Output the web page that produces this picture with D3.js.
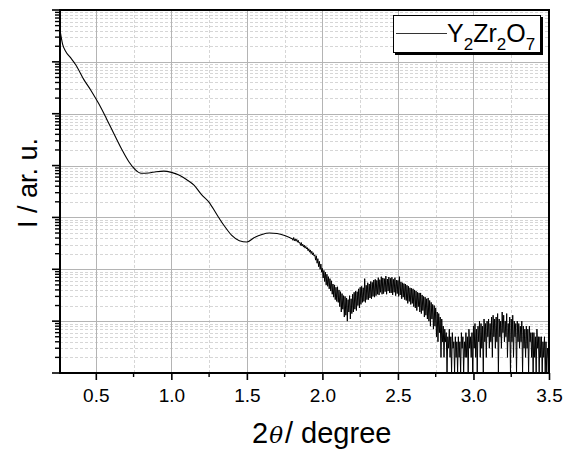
<!DOCTYPE html>
<html><head><meta charset="utf-8">
<script src="https://cdn.jsdelivr.net/npm/d3@7"></script>
<style>
html,body{margin:0;padding:0;background:#fff;}
svg{display:block;}
text{font-family:"Liberation Sans",Arial,sans-serif;fill:#000;}
</style></head>
<body><svg id="chart" width="566" height="453"></svg>
<script>
// ---- data ----
const smoothTheta = [0.265,0.28,0.30,0.33,0.37,0.42,0.47,0.52,0.57,0.62,0.67,0.72,0.76,0.80,0.85,0.90,0.95,1.00,1.05,1.10,1.15,1.20,1.25,1.30,1.35,1.40,1.45,1.50,1.55,1.60,1.65,1.70,1.75,1.80];
const smoothI = [3.8e6,2.2e6,1.6e6,1.23e6,8.5e5,4.6e5,2.75e5,1.55e5,8.1e4,4.1e4,2.1e4,1.17e4,8.4e3,7.1e3,7.2e3,7.6e3,7.8e3,7.4e3,6.6e3,5.4e3,4.2e3,2.75e3,1.95e3,1.15e3,690,450,355,335,410,470,500,490,450,390];
const noisyStart = 1.80, noisyStep = 0.005;
const noisyCounts = [
395,362,410,355,386,349,378,333,362,321,
330,290,328,281,305,268,292,256,277,246,
262,228,249,214,236,201,222,190,208,180,
190,150,182,131,160,112,142,100,126,88,
104,68,95,58,88,50,80,47,72,42,
66,38,60,33,52,29,50,26,45,24,
46,23,40,19,37,15,34,17,31,12,
30,13,28,10,26,15,31,11,27,14,
33,15,36,17,38,16,37,20,42,18,
45,21,47,23,44,24,66,23,49,26,
55,26,52,28,58,27,56,30,62,29,
64,31,61,33,69,32,63,36,72,33,
68,34,66,37,74,33,65,38,71,35,
67,35,70,32,64,36,69,31,62,34,
61,30,72,32,57,27,55,29,53,26,
52,25,49,22,47,24,44,21,43,22,
42,19,40,18,38,16,36,19,35,15,
35,14,32,16,30,12,29,13,27,11,
28,10,25,8,23,11,21,7,20,8,
18,5,15,4,14,6,12,2,11,4,
8,2,7,4,6,1,5,3,7,2,
5,1,6,3,4,1,5,2,4,1,
5,2,4,1,6,3,5,1,4,2,
6,2,5,1,7,3,5,2,6,1,
8,3,9,2,7,1,8,4,10,2,
9,3,8,1,11,4,9,2,10,5,
11,3,9,4,12,2,13,5,11,3,
12,4,14,1,11,5,10,3,15,6,
13,4,10,5,14,2,9,4,12,1,
11,4,13,2,10,5,9,1,10,4,
9,3,8,4,10,1,8,3,7,2,
8,3,7,1,8,4,6,2,6,1,
6,2,5,1,7,3,5,1,5,2,
5,1,4,2,5,1,4,1,3,2,
2];
const xTickValues = [0.5,1.0,1.5,2.0,2.5,3.0,3.5];
const xMinorValues = [0.75,1.25,1.75,2.25,2.75,3.25];
const xDomain = [0.263, 3.5];
const yDomain = [1, 1e7];
const xTitle = "/ degree";
const yTitle = "I / ar. u.";

// ---- layout ----
const L = 60, R = 549, T = 10, B = 373;
const svg = d3.select("#chart");
const x = d3.scaleLinear().domain(xDomain).range([L, R]);
const y = d3.scaleLog().domain(yDomain).range([B, T]);

const majorY = d3.range(0, 8).map(e => Math.pow(10, e));
const minorY = [];
for (let e = 0; e < 7; e++) for (let k = 2; k <= 9; k++) minorY.push(k * Math.pow(10, e));

svg.append("defs").append("clipPath").attr("id","clip").append("rect")
  .attr("x", L).attr("y", T).attr("width", R - L).attr("height", B - T);

// grid
const grid = svg.append("g");
grid.selectAll(".hmin").data(minorY).join("line")
  .attr("x1", L).attr("x2", R).attr("y1", d => Math.round(y(d)) + 0.5).attr("y2", d => Math.round(y(d)) + 0.5)
  .attr("stroke", "#d6d6d6").attr("stroke-width", 1).attr("stroke-dasharray", "3,2");
grid.selectAll(".vmin").data(xMinorValues).join("line")
  .attr("y1", T).attr("y2", B).attr("x1", d => Math.round(x(d)) + 0.5).attr("x2", d => Math.round(x(d)) + 0.5)
  .attr("stroke", "#d6d6d6").attr("stroke-width", 1).attr("stroke-dasharray", "3,2");
grid.selectAll(".hmaj").data(majorY.slice(1, 7)).join("line")
  .attr("x1", L).attr("x2", R).attr("y1", d => Math.round(y(d)) + 0.5).attr("y2", d => Math.round(y(d)) + 0.5)
  .attr("stroke", "#b4b4b4").attr("stroke-width", 1);
grid.selectAll(".vmaj").data(xTickValues.slice(0, 6)).join("line")
  .attr("y1", T).attr("y2", B).attr("x1", d => Math.round(x(d)) + 0.5).attr("x2", d => Math.round(x(d)) + 0.5)
  .attr("stroke", "#b4b4b4").attr("stroke-width", 1);

// data
const plot = svg.append("g").attr("clip-path", "url(#clip)");
const smoothData = smoothTheta.map((t, i) => [t, smoothI[i]]);
plot.append("path").datum(smoothData)
  .attr("fill", "none").attr("stroke", "#000").attr("stroke-width", 1.1)
  .attr("d", d3.line().x(d => x(d[0])).y(d => y(d[1])).curve(d3.curveMonotoneX));
const noisyData = noisyCounts.map((c, i) => [noisyStart + i * noisyStep, c]);
plot.append("path").datum(noisyData)
  .attr("fill", "none").attr("stroke", "#000").attr("stroke-width", 1)
  .attr("d", d3.line().x(d => x(d[0])).y(d => y(d[1])));

// axes
const xAxis = d3.axisBottom(x).tickValues(xTickValues).tickSize(7).tickPadding(9).tickFormat(d3.format(".1f"));
const gx = svg.append("g").attr("transform", `translate(0,${B})`).call(xAxis);
gx.select(".domain").remove();
gx.selectAll(".tick line").attr("stroke", "#000").attr("stroke-width", 1.6);
gx.selectAll(".tick text").attr("font-size", 19).attr("font-family", "Liberation Sans, Arial, sans-serif");
svg.append("g").selectAll("line").data(xMinorValues).join("line")
  .attr("x1", d => x(d)).attr("x2", d => x(d)).attr("y1", B).attr("y2", B + 4)
  .attr("stroke", "#000").attr("stroke-width", 1.4);

const gy = svg.append("g");
gy.selectAll(".ymaj").data(majorY).join("line")
  .attr("x1", L - 8).attr("x2", L).attr("y1", d => y(d)).attr("y2", d => y(d))
  .attr("stroke", "#000").attr("stroke-width", 1.6);
gy.selectAll(".ymin").data(minorY).join("line")
  .attr("x1", L - 5).attr("x2", L).attr("y1", d => y(d)).attr("y2", d => y(d))
  .attr("stroke", "#000").attr("stroke-width", 1.4);

// frame
svg.append("rect").attr("x", L).attr("y", T).attr("width", R - L).attr("height", B - T)
  .attr("fill", "none").attr("stroke", "#000").attr("stroke-width", 2);

// titles
const xt = svg.append("text").attr("x", 252).attr("y", 443).attr("font-size", 29);
xt.append("tspan").text("2");
xt.append("tspan").attr("font-style", "italic").attr("font-family", "DejaVu Serif, serif").attr("font-size", 23).attr("dx", 1).text("θ");
xt.append("tspan").attr("dx", 2).text(xTitle);

svg.append("text").attr("transform", "translate(37,183) rotate(-90)")
  .attr("text-anchor", "middle").attr("font-size", 27).text(yTitle);

// legend
const lg = svg.append("g");
lg.append("rect").attr("x", 395).attr("y", 17).attr("width", 148).attr("height", 38).attr("fill", "#000");
lg.append("rect").attr("x", 393.5).attr("y", 15.5).attr("width", 147).attr("height", 37).attr("fill", "#fff").attr("stroke", "#000").attr("stroke-width", 1);
lg.append("line").attr("x1", 396).attr("x2", 447).attr("y1", 33.5).attr("y2", 33.5).attr("stroke", "#333").attr("stroke-width", 1);
const lt = lg.append("text").attr("x", 447).attr("y", 42).attr("font-size", 25);
const parts = [["Y",0],["2",1],["Zr",0],["2",1],["O",0],["7",1]];
parts.forEach(([s, sub]) => {
  lt.append("tspan").attr("font-size", sub ? 17 : 25).attr("dy", sub ? 8 : (s === "Y" ? 0 : -8)).text(s);
});
</script></body></html>
